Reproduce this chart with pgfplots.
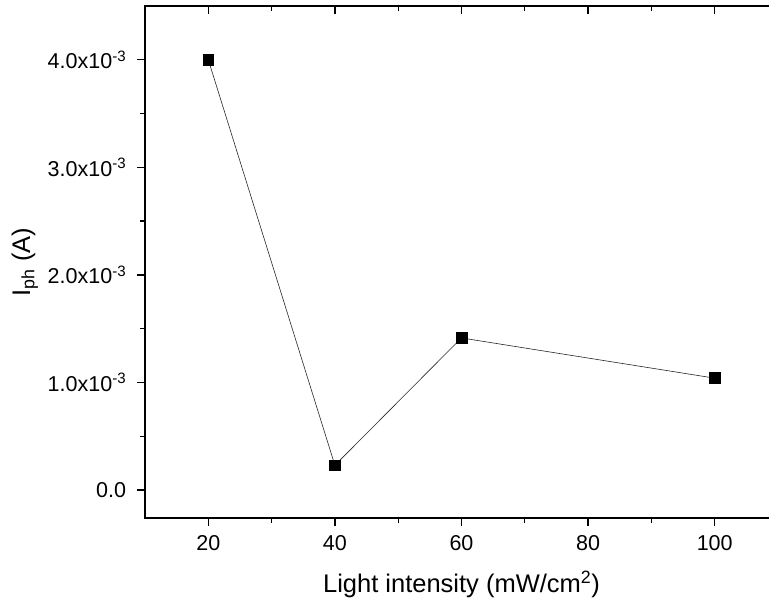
\documentclass[border=0pt]{standalone}
\usepackage{fontspec}
\setmainfont{Liberation Sans}
\usepackage{pgfplots}
\pgfplotsset{compat=1.18}

\begin{document}
\fontsize{20}{24}\selectfont
\begin{tikzpicture}
  % fix the page to the reference size (1pt = 1px); the right edge of the frame falls just outside
  \useasboundingbox (0,0) rectangle (769pt,605pt);
  \pgfplotsset{
    frame/.style={
      at={(145pt,87pt)}, anchor=south west,
      scale only axis,
      width=633pt, height=512pt,
      xmin=10, xmax=110,
      ymin=-0.26e-3, ymax=4.5e-3,
      scaled y ticks=false,
      xtick={20,40,60,80,100},
      minor x tick num=1,
      ytick={0,1e-3,2e-3,3e-3,4e-3},
      minor y tick num=1,
      major tick length=8pt, minor tick length=5pt,
      every tick/.style={line width=1.3pt, black},
      axis line style={line width=1.5pt},
    },
  }
  % mirrored ticks on top and right, pointing inwards
  \begin{axis}[frame,
      xtick pos=right, ytick pos=right,
      tick align=inside,
      xticklabels={}, yticklabels={},
    ]
  \end{axis}
  \begin{axis}[frame,
      xtick pos=left, ytick pos=left,
      tick align=outside,
      yticklabels={0.0, 1.0x10\textsuperscript{-3}, 2.0x10\textsuperscript{-3}, 3.0x10\textsuperscript{-3}, 4.0x10\textsuperscript{-3}},
      /pgf/number format/assume math mode=true,
      xticklabel style={font=\fontsize{21.5}{24}\selectfont, yshift=-3pt},
      yticklabel style={font=\fontsize{21.5}{24}\selectfont, xshift=-4pt},
      xlabel={Light intensity (mW/cm\textsuperscript{2})},
      ylabel={I\textsubscript{ph} (A)},
      label style={font=\fontsize{25.5}{28}\selectfont},
      xlabel style={yshift=-6pt},
      ylabel style={yshift=-4pt},
      clip=false,
    ]
    \addplot[black!85, line width=0.6pt, mark=square*, mark size=5.4pt,
             mark options={solid, fill=black, draw=black}]
      coordinates {
        (20,4.0e-3)
        (40,0.23e-3)
        (60,1.414e-3)
        (100,1.04e-3)
      };
  \end{axis}
\end{tikzpicture}
\end{document}
